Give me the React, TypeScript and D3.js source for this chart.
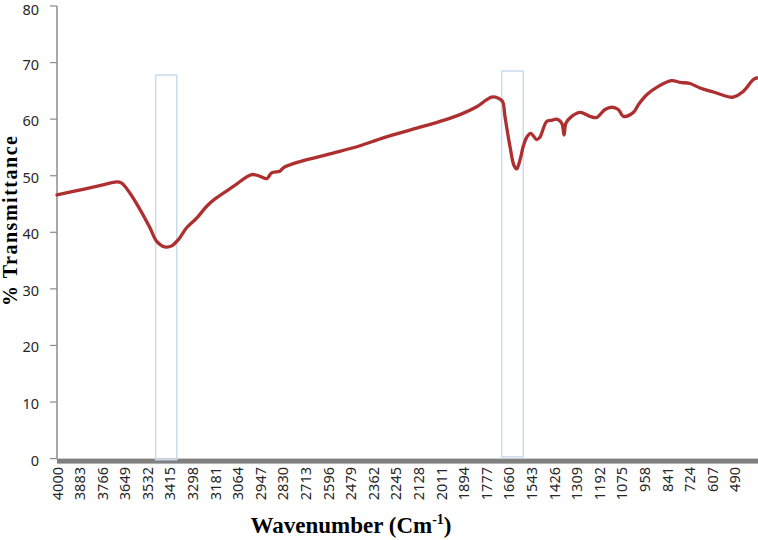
import React from "react";
import * as d3 from "d3";

const wavenumbers = [4000, 3865, 3762, 3691, 3665, 3622, 3570, 3519, 3484, 3441, 3406, 3372, 3329, 3277, 3225, 3182, 3087, 2992, 2949, 2914, 2889, 2846, 2828, 2742, 2570, 2431, 2311, 2138, 2017, 1914, 1827, 1750, 1715, 1693, 1681, 1655, 1634, 1620, 1603, 1586, 1568, 1548, 1517, 1500, 1465, 1439, 1413, 1387, 1375, 1365, 1335, 1292, 1241, 1206, 1163, 1128, 1094, 1068, 1016, 991, 947, 887, 818, 775, 723, 671, 602, 516, 499, 447, 395, 376];
const transmittance = [46.6, 47.6, 48.4, 48.9, 48.7, 46.9, 44.0, 40.8, 38.4, 37.4, 37.6, 38.7, 40.8, 42.5, 44.6, 45.9, 48.1, 50.2, 49.9, 49.5, 50.5, 50.8, 51.4, 52.5, 54.0, 55.3, 56.7, 58.4, 59.6, 60.8, 62.2, 63.9, 63.7, 63.1, 60.5, 55.2, 51.8, 51.2, 52.8, 55.2, 56.8, 57.5, 56.4, 56.8, 59.6, 59.8, 60.0, 59.3, 57.2, 59.3, 60.5, 61.2, 60.5, 60.3, 61.7, 62.1, 61.7, 60.5, 61.2, 62.5, 64.3, 65.8, 66.8, 66.5, 66.3, 65.5, 64.8, 63.9, 63.9, 64.9, 67.0, 67.3];

const xTickLabels = [4000, 3883, 3766, 3649, 3532, 3415, 3298, 3181, 3064, 2947, 2830, 2713, 2596, 2479, 2362, 2245, 2128, 2011, 1894, 1777, 1660, 1543, 1426, 1309, 1192, 1075, 958, 841, 724, 607, 490];
const yTicks = [0, 10, 20, 30, 40, 50, 60, 70, 80];

// highlight boxes: wavenumber start/end, bottom/top %
const boxStarts = [3489, 1698];
const boxEnds = [3380, 1586];
const boxBottoms = [-0.2, 0.3];
const boxTops = [67.8, 68.5];

export default function App() {
  const W = 758, H = 540;
  const x = d3.scaleLinear().domain([4000, 376]).range([57, 757]);
  const y = d3.scaleLinear().domain([0, 80]).range([458.6, 6]);
  const data = wavenumbers.map((w, i) => [w, transmittance[i]] as [number, number]);
  const line = d3.line<[number, number]>()
    .x(d => x(d[0]))
    .y(d => y(d[1]))
    .curve(d3.curveCatmullRom.alpha(0.5));
  const path = line(data) || "";

  return (
    <svg width={W} height={H} style={{ position: "absolute", left: 0, top: 0, background: "#fff" }}>
      <line x1={57} x2={57} y1={y(80)} y2={y(0)} stroke="#8c8c8c" strokeWidth={1.5} />
      {yTicks.map(t => (
        <g key={t}>
          <line x1={50} x2={57} y1={y(t)} y2={y(t)} stroke="#8c8c8c" strokeWidth={1.2} />
          <text x={39} y={Math.max(y(t) + 1, 9)} textAnchor="end" dominantBaseline="central"
            fontFamily="'Noto Sans', sans-serif" fontSize={14.5} fill="#262626">{t}</text>
        </g>
      ))}
      <rect x={57} y={y(0)} width={W - 57} height={5} fill="#808080" />
      {boxStarts.map((b, i) => (
        <rect key={i} x={x(b)} y={y(boxTops[i])} width={x(boxEnds[i]) - x(b)}
          height={y(boxBottoms[i]) - y(boxTops[i])}
          fill="none" stroke="#c9dcee" strokeWidth={1.5} />
      ))}
      <path d={path} fill="none" stroke="#ae2f2f" strokeWidth={3.3} strokeLinejoin="round" strokeLinecap="round" />
      {xTickLabels.map(t => (
        <text key={t} transform={`translate(${x(t) + 5.5},467) rotate(-90)`} textAnchor="end"
          fontFamily="'Noto Sans', sans-serif" fontSize={14.5} fill="#262626">{t}</text>
      ))}
      <text x={351} y={533} textAnchor="middle" fontFamily="'Liberation Serif', 'Times New Roman', serif"
        fontWeight="bold" fontSize={23} fill="#000">
        Wavenumber (Cm<tspan fontSize={14} dy={-9}>-1</tspan><tspan dy={9}>)</tspan>
      </text>
      <text transform="translate(17,221) rotate(-90)" textAnchor="middle"
        fontFamily="'Liberation Serif', 'Times New Roman', serif" fontWeight="bold" fontSize={20}
        textLength={170} lengthAdjust="spacing" fill="#000">% Transmittance</text>
    </svg>
  );
}
